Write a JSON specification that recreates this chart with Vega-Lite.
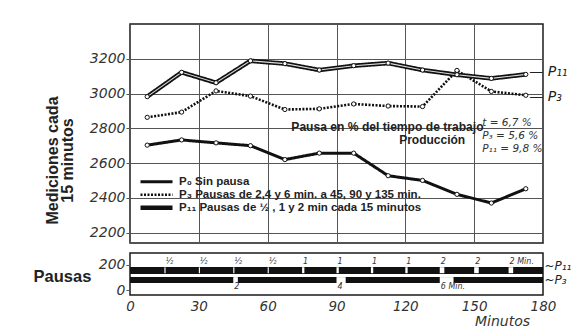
{
  "$schema": "https://vega.github.io/schema/vega-lite/v6.json",
  "autosize": {"type": "pad"},
  "padding": {"left": 32, "top": 23, "right": 2, "bottom": 5},
  "background": "white",
  "spacing": 8,
  "resolve": {"scale": {"x": "independent"}, "axis": {"x": "independent"}},
  "config": {
    "view": {"stroke": "#1a1a1a", "strokeWidth": 1.5},
    "axis": {
      "labelFont": "DejaVu Sans", "labelFontStyle": "italic", "labelFontSize": 14, "labelColor": "#333", "labelOverlap": false,
      "gridColor": "#555", "gridWidth": 1, "gridOpacity": 1, "domain": false, "tickColor": "#555",
      "titleFont": "Liberation Sans", "titleFontWeight": "bold", "titleColor": "#222"
    },
    "axisX": {"labelOverlap": false, "labelFlush": false},
    "text": {"font": "Liberation Sans"}
  },
  "datasets": {
    "series": [
      {"serie": "P11", "min": 7.5, "valor": 2982},
      {"serie": "P11", "min": 22.5, "valor": 3122},
      {"serie": "P11", "min": 37.5, "valor": 3062},
      {"serie": "P11", "min": 52.5, "valor": 3188},
      {"serie": "P11", "min": 67.5, "valor": 3172},
      {"serie": "P11", "min": 82.5, "valor": 3135},
      {"serie": "P11", "min": 97.5, "valor": 3160},
      {"serie": "P11", "min": 112.5, "valor": 3175},
      {"serie": "P11", "min": 127.5, "valor": 3135},
      {"serie": "P11", "min": 142.5, "valor": 3108},
      {"serie": "P11", "min": 157.5, "valor": 3087},
      {"serie": "P11", "min": 172.5, "valor": 3110},
      {"serie": "P3", "min": 7.5, "valor": 2863},
      {"serie": "P3", "min": 22.5, "valor": 2893},
      {"serie": "P3", "min": 37.5, "valor": 3015},
      {"serie": "P3", "min": 52.5, "valor": 2985},
      {"serie": "P3", "min": 67.5, "valor": 2908},
      {"serie": "P3", "min": 82.5, "valor": 2912},
      {"serie": "P3", "min": 97.5, "valor": 2940},
      {"serie": "P3", "min": 112.5, "valor": 2928},
      {"serie": "P3", "min": 127.5, "valor": 2925},
      {"serie": "P3", "min": 142.5, "valor": 3133},
      {"serie": "P3", "min": 157.5, "valor": 3012},
      {"serie": "P3", "min": 172.5, "valor": 2990},
      {"serie": "P0", "min": 7.5, "valor": 2703},
      {"serie": "P0", "min": 22.5, "valor": 2733},
      {"serie": "P0", "min": 37.5, "valor": 2716},
      {"serie": "P0", "min": 52.5, "valor": 2700},
      {"serie": "P0", "min": 67.5, "valor": 2620},
      {"serie": "P0", "min": 82.5, "valor": 2657},
      {"serie": "P0", "min": 97.5, "valor": 2657},
      {"serie": "P0", "min": 112.5, "valor": 2527},
      {"serie": "P0", "min": 127.5, "valor": 2500},
      {"serie": "P0", "min": 142.5, "valor": 2420},
      {"serie": "P0", "min": 157.5, "valor": 2370},
      {"serie": "P0", "min": 172.5, "valor": 2452}
    ],
    "notas_negrita": [
      {"texto": "Pausa en % del tiempo de trabajo", "min": 112.2, "valor": 2807, "tam": 12.1},
      {"texto": "Producción", "min": 131.7, "valor": 2733, "tam": 12}
    ],
    "notas_cursiva": [
      {"texto": "t = 6,7 %", "min": 153.5, "valor": 2830},
      {"texto": "P₃ = 5,6 %", "min": 153.5, "valor": 2756},
      {"texto": "P₁₁ = 9,8 %", "min": 153.5, "valor": 2682}
    ],
    "rotulos": [
      {"texto": "— P₁₁", "min": 174, "valor": 3122},
      {"texto": "— P₃", "min": 174, "valor": 2978}
    ],
    "pausas": [
      {"serie": "P11", "inicio": 15, "fin": 15.5, "etiqueta": "½"},
      {"serie": "P11", "inicio": 30, "fin": 30.5, "etiqueta": "½"},
      {"serie": "P11", "inicio": 45, "fin": 45.5, "etiqueta": "½"},
      {"serie": "P11", "inicio": 60, "fin": 60.5, "etiqueta": "½"},
      {"serie": "P11", "inicio": 75, "fin": 76, "etiqueta": "1"},
      {"serie": "P11", "inicio": 90, "fin": 91, "etiqueta": "1"},
      {"serie": "P11", "inicio": 105, "fin": 106, "etiqueta": "1"},
      {"serie": "P11", "inicio": 120, "fin": 121, "etiqueta": "1"},
      {"serie": "P11", "inicio": 135, "fin": 137, "etiqueta": "2"},
      {"serie": "P11", "inicio": 150, "fin": 152, "etiqueta": "2"},
      {"serie": "P11", "inicio": 165, "fin": 167, "etiqueta": "2 Min."},
      {"serie": "P3", "inicio": 45, "fin": 47, "etiqueta": "2"},
      {"serie": "P3", "inicio": 90, "fin": 94, "etiqueta": "4"},
      {"serie": "P3", "inicio": 135, "fin": 141, "etiqueta": "6 Min."}
    ]
  },
  "vconcat": [
    {
      "width": 413,
      "height": 219,
      "layer": [
        {
          "data": {"name": "series"},
          "mark": {"type": "line", "color": "#111", "strokeCap": "butt", "strokeJoin": "round"},
          "encoding": {
            "x": {"field": "min", "type": "quantitative", "scale": {"domain": [0, 180], "nice": false},
                  "axis": {"values": [0, 15, 30, 45, 60, 75, 90, 105, 120, 135, 150, 165, 180], "labels": false, "ticks": false, "title": null}},
            "y": {"field": "valor", "type": "quantitative", "scale": {"domain": [2140, 3400], "nice": false, "zero": false},
                  "axis": {"values": [2200, 2400, 2600, 2800, 3000, 3200], "format": "d", "tickSize": 4, "labelPadding": 1,
                           "title": ["Mediciones cada", "15 minutos"], "titleFontSize": 16, "titleLineHeight": 15,
                           "titleX": -78, "titleY": 136, "titleAngle": 270, "titleAlign": "center", "titleBaseline": "middle"}},
            "detail": {"field": "serie"},
            "strokeDash": {"field": "serie", "type": "nominal",
                           "scale": {"domain": ["P0", "P3", "P11"], "range": [[1, 0], [2, 1.5], [1, 0]]},
                           "legend": {"orient": "none", "legendX": 8, "legendY": 152, "title": null, "labelLimit": 0, "labelOffset": 4,
                                      "symbolType": "stroke", "symbolSize": 1024, "symbolStrokeColor": "#111", "clipHeight": 11.5,
                                      "rowPadding": 0, "labelFont": "Liberation Sans", "labelFontWeight": "bold", "labelFontSize": 11.5, "labelColor": "#222",
                                      "labelExpr": "datum.label == 'P0' ? 'P₀   Sin pausa' : datum.label == 'P3' ? 'P₃   Pausas de 2,4 y 6 min. a 45, 90 y 135 min.' : 'P₁₁  Pausas de ½ , 1 y 2 min cada 15 minutos'"}},
            "strokeWidth": {"field": "serie", "type": "nominal",
                            "scale": {"type": "ordinal", "domain": ["P0", "P3", "P11"], "range": [3, 2.6, 4.5]},
                            "legend": {"orient": "none", "legendX": 8, "legendY": 152, "title": null, "labelLimit": 0, "labelOffset": 4,
                                      "symbolType": "stroke", "symbolSize": 1024, "symbolStrokeColor": "#111", "clipHeight": 11.5,
                                      "rowPadding": 0, "labelFont": "Liberation Sans", "labelFontWeight": "bold", "labelFontSize": 11.5, "labelColor": "#222",
                                      "labelExpr": "datum.label == 'P0' ? 'P₀   Sin pausa' : datum.label == 'P3' ? 'P₃   Pausas de 2,4 y 6 min. a 45, 90 y 135 min.' : 'P₁₁  Pausas de ½ , 1 y 2 min cada 15 minutos'"}}
          }
        },
        {
          "data": {"name": "series"},
          "transform": [{"filter": "datum.serie == 'P11'"}],
          "mark": {"type": "line", "color": "white", "strokeWidth": 1.1, "opacity": 0.85},
          "encoding": {
            "x": {"field": "min", "type": "quantitative"},
            "y": {"field": "valor", "type": "quantitative"}
          }
        },
        {
          "data": {"name": "series"},
          "mark": {"type": "point", "shape": "circle", "filled": true, "fill": "white", "stroke": "#111", "strokeWidth": 1, "size": 18, "opacity": 1},
          "encoding": {
            "x": {"field": "min", "type": "quantitative"},
            "y": {"field": "valor", "type": "quantitative"}
          }
        },
        {
          "data": {"name": "notas_negrita"},
          "mark": {"type": "text", "font": "Liberation Sans", "fontWeight": "bold", "color": "#222", "align": "center", "baseline": "middle"},
          "encoding": {
            "x": {"field": "min", "type": "quantitative"},
            "y": {"field": "valor", "type": "quantitative"},
            "text": {"field": "texto"},
            "size": {"field": "tam", "type": "quantitative", "scale": null, "legend": null}
          }
        },
        {
          "data": {"name": "notas_cursiva"},
          "mark": {"type": "text", "font": "DejaVu Sans", "fontStyle": "italic", "fontSize": 10.5, "color": "#333", "align": "left", "baseline": "middle"},
          "encoding": {
            "x": {"field": "min", "type": "quantitative"},
            "y": {"field": "valor", "type": "quantitative"},
            "text": {"field": "texto"}
          }
        },
        {
          "data": {"name": "rotulos"},
          "mark": {"type": "text", "font": "DejaVu Sans", "fontStyle": "italic", "fontSize": 14, "color": "#222", "align": "left", "baseline": "middle"},
          "encoding": {
            "x": {"field": "min", "type": "quantitative"},
            "y": {"field": "valor", "type": "quantitative"},
            "text": {"field": "texto"}
          }
        }
      ]
    },
    {
      "width": 413,
      "height": 42,
      "data": {"name": "pausas"},
      "layer": [
        {
          "mark": {"type": "bar", "color": "#111", "size": 6},
          "encoding": {
            "x": {"datum": 0, "type": "quantitative", "scale": {"domain": [0, 180], "nice": false},
                  "axis": {"values": [0, 15, 30, 45, 60, 75, 90, 105, 120, 135, 150, 165, 180], "ticks": false, "labelPadding": 4, "labelOverlap": false, "labelFlush": false, "labelFontSize": 13.5,
                           "labelExpr": "'' + datum.value",
                           "title": "Minutos", "titleFont": "DejaVu Sans", "titleFontStyle": "italic", "titleFontWeight": "normal", "titleFontSize": 14, "titleColor": "#333",
                           "titleX": 372, "titleY": 26, "titleAlign": "center", "titleBaseline": "middle"}},
            "x2": {"datum": 180},
            "y": {"datum": 158, "type": "quantitative", "scale": {"domain": [0, 255], "nice": false},
                  "axis": {"values": [0, 200], "grid": false, "tickSize": 4, "labelPadding": 1,
                           "title": "Pausas", "titleFontSize": 16.5, "titleAngle": 0, "titleX": -68, "titleY": 23, "titleAlign": "center", "titleBaseline": "middle"}}
          }
        },
        {
          "mark": {"type": "bar", "color": "#111", "size": 6},
          "encoding": {
            "x": {"datum": 0, "type": "quantitative"},
            "x2": {"datum": 180},
            "y": {"datum": 79, "type": "quantitative"}
          }
        },
        {
          "transform": [{"filter": "datum.serie == 'P11'"}],
          "mark": {"type": "bar", "color": "white", "size": 6},
          "encoding": {
            "x": {"field": "inicio", "type": "quantitative"},
            "x2": {"field": "fin"},
            "y": {"datum": 158, "type": "quantitative"}
          }
        },
        {
          "transform": [{"filter": "datum.serie == 'P3'"}],
          "mark": {"type": "bar", "color": "white", "size": 6},
          "encoding": {
            "x": {"field": "inicio", "type": "quantitative"},
            "x2": {"field": "fin"},
            "y": {"datum": 79, "type": "quantitative"}
          }
        },
        {
          "transform": [{"filter": "datum.serie == 'P11'"}],
          "mark": {"type": "text", "font": "DejaVu Sans", "fontStyle": "italic", "fontSize": 8, "color": "#333", "align": "left", "baseline": "middle", "dx": 1},
          "encoding": {
            "x": {"field": "inicio", "type": "quantitative"},
            "y": {"datum": 225, "type": "quantitative"},
            "text": {"field": "etiqueta"}
          }
        },
        {
          "transform": [{"filter": "datum.serie == 'P3'"}],
          "mark": {"type": "text", "font": "DejaVu Sans", "fontStyle": "italic", "fontSize": 8, "color": "#333", "align": "left", "baseline": "middle", "dx": 1},
          "encoding": {
            "x": {"field": "inicio", "type": "quantitative"},
            "y": {"datum": 24, "type": "quantitative"},
            "text": {"field": "etiqueta"}
          }
        },
        {
          "data": {"values": [{}]},
          "mark": {"type": "text", "font": "DejaVu Sans", "fontStyle": "italic", "fontSize": 12, "color": "#222", "align": "left", "baseline": "middle"},
          "encoding": {
            "x": {"datum": 180.6, "type": "quantitative"},
            "y": {"datum": 188, "type": "quantitative"},
            "text": {"value": "~P₁₁"}
          }
        },
        {
          "data": {"values": [{}]},
          "mark": {"type": "text", "font": "DejaVu Sans", "fontStyle": "italic", "fontSize": 12, "color": "#222", "align": "left", "baseline": "middle"},
          "encoding": {
            "x": {"datum": 180.6, "type": "quantitative"},
            "y": {"datum": 80, "type": "quantitative"},
            "text": {"value": "~P₃"}
          }
        }
      ]
    }
  ]
}
